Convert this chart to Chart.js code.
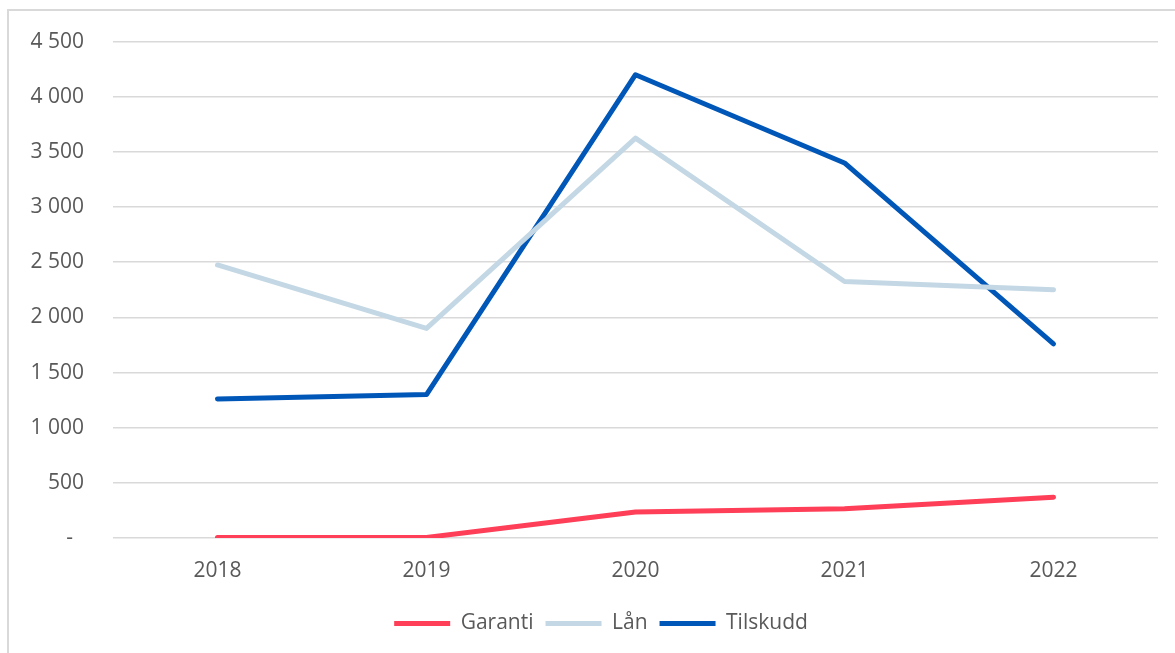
<!DOCTYPE html>
<html>
<head>
<meta charset="utf-8">
<script src="https://cdn.jsdelivr.net/npm/chart.js@4/dist/chart.umd.min.js"></script>
<style>
  html, body { margin: 0; padding: 0; background: #fff; }
  #wrap { position: relative; width: 1175px; height: 653px; }
  #frame {
    position: absolute; left: 7px; top: 9px; right: 0; bottom: 0;
    border-left: 2px solid #d9d9d9; border-top: 2px solid #d9d9d9;
    pointer-events: none;
  }
  canvas { position: absolute; left: 0; top: 0; }
</style>
</head>
<body>
<div id="wrap">
  <canvas id="chart" width="1175" height="653"></canvas>
  <div id="frame"></div>
</div>
<script>
  const years = ['2018', '2019', '2020', '2021', '2022'];
  const garanti = [5, 5, 235, 265, 370];
  const laan = [2475, 1900, 3625, 2325, 2250];
  const tilskudd = [1260, 1300, 4200, 3400, 1760];

  const textColor = '#595959';
  const fontFamily = '"Open Sans", sans-serif';

  // space as thousands separator, dash for zero (like the Excel format)
  function fmt(v) {
    if (v === 0) return '-  ';
    return String(v).replace(/\B(?=(\d{3})+(?!\d))/g, ' ');
  }

  function line(label, data, color) {
    return {
      label: label,
      data: data,
      borderColor: color,
      backgroundColor: color,
      borderWidth: 5,
      borderCapStyle: 'round',
      borderJoinStyle: 'round',
      pointRadius: 0,
      pointHoverRadius: 0,
      pointStyle: 'line',
      fill: false,
      tension: 0
    };
  }

  // the legend in the original sits a bit right of the canvas centre
  const shiftLegend = {
    id: 'shiftLegend',
    afterLayout(chart) {
      if (chart.legend) chart.legend.left += 44;
    }
  };

  const ctx = document.getElementById('chart').getContext('2d');
  const chart = new Chart(ctx, {
    type: 'line',
    data: {
      labels: years,
      datasets: [
        line('Garanti', garanti, '#ff3e57'),
        line('Lån', laan, '#c3d8e4'),
        line('Tilskudd', tilskudd, '#0057b8')
      ]
    },
    plugins: [shiftLegend],
    options: {
      responsive: false,
      animation: false,
      layout: { padding: { top: 39, right: 17, bottom: 9, left: 0 } },
      plugins: {
        tooltip: { enabled: false },
        legend: {
          position: 'bottom',
          labels: {
            usePointStyle: true,
            pointStyleWidth: 56,
            boxHeight: 5,
            padding: 12,
            color: textColor,
            font: { family: fontFamily, size: 21 }
          }
        }
      },
      scales: {
        x: {
          offset: true,
          grid: { display: false, drawTicks: false },
          border: { display: false },
          ticks: { color: textColor, padding: 20, font: { family: fontFamily, size: 21 } },
          afterFit: (scale) => { scale.height = 63; }
        },
        y: {
          min: 0,
          max: 4500,
          grid: { color: '#d9d9d9', lineWidth: 1.5, drawTicks: false },
          border: { display: false },
          ticks: {
            stepSize: 500,
            padding: 29,
            color: textColor,
            font: { family: fontFamily, size: 21 },
            callback: (v) => fmt(v)
          },
          afterFit: (scale) => { scale.width = 113; }
        }
      }
    }
  });
</script>
</body>
</html>
